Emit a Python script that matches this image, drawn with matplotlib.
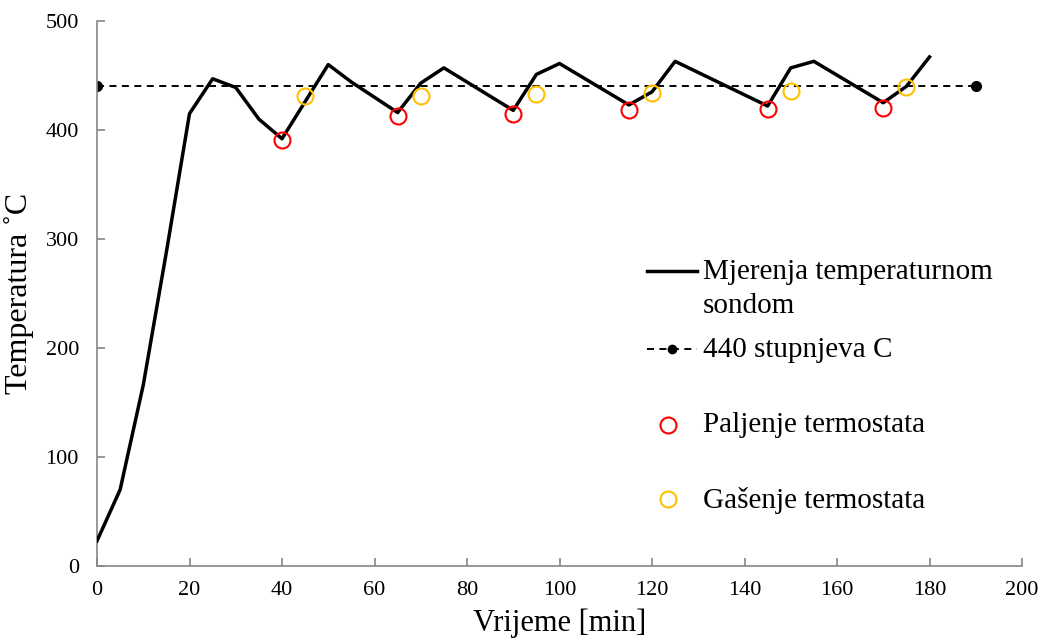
import matplotlib
matplotlib.use("Agg")
import matplotlib.pyplot as plt
from matplotlib.lines import Line2D

plt.rcParams['font.family'] = ['Liberation Serif', 'DejaVu Serif']

# Measured temperature (probe)
time_min = [0, 5, 10, 15, 20, 25, 30, 35, 40, 50, 55, 65, 70, 75, 90, 95, 100,
            115, 120, 125, 145, 150, 155, 170, 175, 180]
temp_c = [23, 70, 166, 288, 415, 447, 439, 410, 392, 460, 444, 416, 443, 457, 418,
          451, 461, 423, 435, 463, 422, 457, 463, 425, 440, 467]

# 440 degree reference line
ref_x = [0, 190]
ref_y = [440, 440]

# Thermostat switching on (red) / off (yellow)
on_x = [40, 65, 90, 115, 145, 170]
on_y = [391, 413, 415, 418, 419, 420]
off_x = [45, 70, 95, 120, 150, 175]
off_y = [431, 431, 433, 434, 436, 439]

labels = ["Mjerenja temperaturnom", "sondom", "440 stupnjeva C",
          "Paljenje termostata", "Gašenje termostata"]

W, H = 1042, 642
fig = plt.figure(figsize=(W / 100, H / 100), dpi=100)
ax = fig.add_axes([97 / W, 76 / H, 925 / W, 545 / H])

DASH = (0, (3.6, 2.8))
RED = '#ff0000'
YEL = '#ffc000'

ax.plot(ref_x, ref_y, color='black', lw=1.4, ls=DASH,
        marker='o', markersize=7, zorder=2)
ax.plot(time_min, temp_c, color='black', lw=2.5, zorder=3)
ax.plot(on_x, on_y, ls='none', marker='o', markersize=11.5, markerfacecolor='none',
        markeredgecolor=RED, markeredgewidth=1.5, zorder=4)
ax.plot(off_x, off_y, ls='none', marker='o', markersize=11.5, markerfacecolor='none',
        markeredgecolor=YEL, markeredgewidth=1.5, zorder=4)

ax.set_xlim(0, 200)
ax.set_ylim(0, 500)
ax.set_xticks(range(0, 201, 20))
ax.set_yticks(range(0, 501, 100))
for s in ['top', 'right']:
    ax.spines[s].set_visible(False)
for s in ['left', 'bottom']:
    ax.spines[s].set_color('#868686')
    ax.spines[s].set_linewidth(1.2)
ax.tick_params(direction='in', length=6, width=1.2, color='#868686',
               labelsize=16, labelcolor='black')
ax.tick_params(axis='x', pad=11)
ax.tick_params(axis='y', pad=13)
ax.set_xlabel("Vrijeme [min]", fontsize=22, labelpad=6)
ax.set_ylabel("Temperatura ˚C", fontsize=23, labelpad=8)

# Manual legend (figure pixel positions, y measured from top)
def fx(x):
    return x / W

def fy(y):
    return 1 - y / H

tf = fig.transFigure
fig.add_artist(Line2D([fx(647), fx(697)], [fy(271), fy(271)], color='black',
                      lw=2.5, transform=tf))
fig.add_artist(Line2D([fx(647), fx(697)], [fy(349), fy(349)], color='black',
                      lw=1.4, ls=DASH, transform=tf))
fig.add_artist(Line2D([fx(672)], [fy(349)], color='black', ls='none', marker='o',
                      markersize=6, transform=tf))
fig.add_artist(Line2D([fx(668)], [fy(425)], ls='none', marker='o', markersize=11.5,
                      markerfacecolor='none', markeredgecolor=RED,
                      markeredgewidth=1.5, transform=tf))
fig.add_artist(Line2D([fx(668)], [fy(499)], ls='none', marker='o', markersize=11.5,
                      markerfacecolor='none', markeredgecolor=YEL,
                      markeredgewidth=1.5, transform=tf))

text_x = fx(703)
for lab, base in zip(labels, [279, 313, 357, 432, 508]):
    fig.text(text_x, fy(base), lab, fontsize=21, va='baseline', ha='left')

fig.savefig("out.png", dpi=100)
